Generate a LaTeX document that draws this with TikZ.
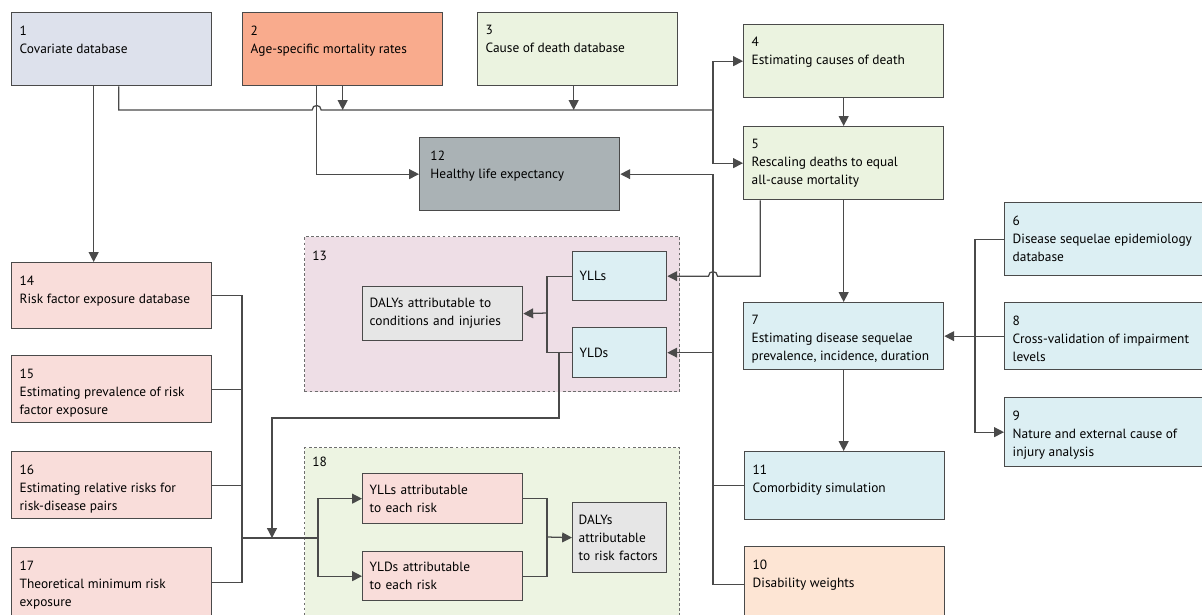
\documentclass[tikz,border=0pt]{standalone}
\usepackage{fontspec}
\setmainfont{PT Sans}
\usepackage{xcolor}
\definecolor{BoxLine}{HTML}{4A4A4A}
\definecolor{CovBlue}{HTML}{DDE1EC}
\definecolor{MortSalmon}{HTML}{F9AB8D}
\definecolor{CodGreen}{HTML}{EBF3E0}
\definecolor{HaleGray}{HTML}{AAB2B5}
\definecolor{SeqCyan}{HTML}{DCEFF3}
\definecolor{RiskPink}{HTML}{F9DDDA}
\definecolor{DwPeach}{HTML}{FDE5D4}
\definecolor{DalyGray}{HTML}{E6E6E6}
\definecolor{PanelPink}{HTML}{EEDEE6}
\definecolor{PanelGreen}{HTML}{EDF4E2}
\usetikzlibrary{arrows.meta, positioning, calc}
\newcommand{\boxfont}{\fontsize{9.5}{12.8}\selectfont}
\tikzset{
  stepbox/.style={rectangle, draw=BoxLine, line width=0.9pt, anchor=north west, inner sep=0pt, minimum width=5cm, minimum height=1.675cm},
  boxtext/.style={anchor=north west, align=left, inner sep=0pt, xshift=0.21cm, yshift=-0.33cm, font=\boxfont},
  smallbox/.style={rectangle, draw=BoxLine, line width=0.9pt, anchor=north west, align=left, inner xsep=0.175cm, inner ysep=0pt, font=\boxfont},
  panel/.style={rectangle, draw=BoxLine!80, line width=0.8pt, dash pattern=on 2pt off 1.6pt, anchor=north west, minimum width=9.375cm},
  panellabel/.style={anchor=north west, inner sep=0pt, xshift=0.2cm, font=\boxfont},
  flowline/.style={draw=BoxLine, line width=0.9pt},
  flow/.style={flowline, -{Triangle[length=7pt, width=7pt]}}
}

\begin{document}
\begin{tikzpicture}[x=0.025cm, y=-0.025cm]
  \useasboundingbox[fill=white] (0,0) rectangle (1202,614);

  \node[stepbox, fill=CovBlue, minimum height=1.825cm, label={[boxtext]north west:{1\\Covariate database}}] (b1) at (11,12) {};
  \node[stepbox, fill=MortSalmon, minimum height=1.825cm, label={[boxtext]north west:{2\\Age-specific mortality rates}}] (b2) at (242,12) {};
  \node[stepbox, fill=CodGreen, minimum height=1.825cm, label={[boxtext]north west:{3\\Cause of death database}}] (b3) at (477,12) {};
  \node[stepbox, fill=CodGreen, minimum height=1.825cm, label={[boxtext]north west:{4\\Estimating causes of death}}] (b4) at (743,24) {};
  \node[stepbox, fill=CodGreen, minimum height=1.825cm, label={[boxtext]north west:{5\\Rescaling deaths to equal\\all-cause mortality}}] (b5) at (743,126) {};
  \node[stepbox, fill=HaleGray, minimum height=1.825cm, label={[boxtext, xshift=0.07cm]north west:{12\\Healthy life expectancy}}] (b12) at (419,137) {};

  \node[stepbox, fill=SeqCyan, minimum height=1.825cm, label={[boxtext]north west:{6\\Disease sequelae epidemiology\\database}}] (b6) at (1004,202) {};
  \node[stepbox, fill=SeqCyan, label={[boxtext]north west:{7\\Estimating disease sequelae\\prevalence, incidence, duration}}] (b7) at (743,302) {};
  \node[stepbox, fill=SeqCyan, label={[boxtext]north west:{8\\Cross-validation of impairment\\levels}}] (b8) at (1004,302) {};
  \node[stepbox, fill=SeqCyan, minimum height=1.725cm, label={[boxtext]north west:{9\\Nature and external cause of\\injury analysis}}] (b9) at (1004,397) {};
  \node[stepbox, fill=SeqCyan, minimum height=1.7cm, label={[boxtext]north west:{11\\Comorbidity simulation}}] (b11) at (744,451) {};
  \node[stepbox, fill=DwPeach, minimum height=1.9cm, label={[boxtext]north west:{10\\Disability weights}}] (b10) at (744,546) {};

  \node[stepbox, fill=RiskPink, minimum height=1.65cm, label={[boxtext]north west:{14\\Risk factor exposure database}}] (b14) at (11,262) {};
  \node[stepbox, fill=RiskPink, label={[boxtext]north west:{15\\Estimating prevalence of risk\\factor exposure}}] (b15) at (11,355) {};
  \node[stepbox, fill=RiskPink, label={[boxtext]north west:{16\\Estimating relative risks for\\risk-disease pairs}}] (b16) at (11,451) {};
  \node[stepbox, fill=RiskPink, minimum height=1.75cm, label={[boxtext]north west:{17\\Theoretical minimum risk\\exposure}}] (b17) at (11,547) {};

  \node[panel, fill=PanelPink, minimum height=3.875cm, label={[panellabel, yshift=-0.37cm]north west:13}] (g13) at (304,236) {};
  \node[panel, fill=PanelGreen, minimum height=4.325cm, label={[panellabel, yshift=-0.25cm]north west:18}] (g18) at (304,447) {};

  \node[smallbox, fill=SeqCyan, text width=2cm, minimum height=1.225cm] (yll) at (572,251) {YLLs};
  \node[smallbox, fill=SeqCyan, text width=2cm, minimum height=1.25cm] (yld) at (572,327) {YLDs};
  \node[smallbox, fill=DalyGray, text width=3.65cm, minimum height=1.35cm] (daly13) at (362,286) {DALYs attributable to\\conditions and injuries};
  \node[smallbox, fill=RiskPink, text width=3.65cm, minimum height=1.25cm] (yllr) at (362,473) {YLLs attributable\\to each risk};
  \node[smallbox, fill=RiskPink, text width=3.65cm, minimum height=1.225cm] (yldr) at (362,551) {YLDs attributable\\to each risk};
  \node[smallbox, fill=DalyGray, text width=2.05cm, inner xsep=0.15cm, minimum height=1.75cm] (dalyr) at (572,502) {DALYs\\attributable\\\mbox{to risk factors}};

  \coordinate (bus) at (713,110);
  \coordinate (hopa) at ($(b2.south |- bus)+(-26,0)$);
  \coordinate (hopb) at (bus |- yll.east);
  \coordinate (riskbus) at (242,538);
  \coordinate (risksplit) at (318,538);
  \coordinate (lossjoin) at (547,313);
  \coordinate (riskjoin) at (547,537);

  \draw[flow] ($(b1.south)+(-18,0)$) -- ($(b14.north)+(-18,0)$);
  \draw[flowline] ($(b1.south)+(7,0)$) |- ($(hopa)+(-4.5,0)$) .. controls ($(hopa)+(-4.5,-6)$) and ($(hopa)+(4.5,-6)$) .. ($(hopa)+(4.5,0)$) -- (bus);
  \draw[flow] (b2.south) -- (b2.south |- bus);
  \draw[flow] ($(b3.south)+(-4,0)$) -- ($(b3.south |- bus)+(-4,0)$);
  \draw[flow] (bus) |- (b4.west);
  \draw[flow] (bus) |- (b5.west);
  \draw[flow] ($(b2.south)+(-26,0)$) |- (b12.west);
  \draw[flow] (b4) -- (b5);
  \draw[flow] (b5) -- (b7);
  \draw[flow] ($(b5.south)+(-83.5,0)$) |- ($(hopb)+(4.5,0)$) .. controls ($(hopb)+(4.5,-6)$) and ($(hopb)+(-4.5,-6)$) .. ($(hopb)+(-4.5,0)$) -- (yll.east);
  \draw[flow] (b10.west) -| (b12.east -| bus) -- (b12.east);
  \draw[flowline] (b11.west) -- (b11.west -| bus);
  \draw[flow] (yld.east -| bus) -- (yld.east);
  \draw[flow] (b7.south) -- (b7.south |- b11.north);
  \draw[flow] (b6.west) -| ($(b9.west)+(-29,0)$) -- (b9.west);
  \draw[flow] (b8.west) -- (b7.east);

  \draw[flowline] (yll.west) -| (lossjoin) |- (yld.west);
  \draw[flow] (lossjoin) -- (daly13.east);
  \draw[flow] ($(yld.west)+(-13,0)$) |- ($(riskbus)+(30,-120)$) -- ($(riskbus)+(30,0)$);
  \draw[flowline] (b14.east) -| (riskbus) |- (b17.east);
  \draw[flowline] (b15.east) -- (b15.east -| riskbus);
  \draw[flowline] (b16.east) -- (b16.east -| riskbus);
  \draw[flowline] (riskbus) -- (risksplit);
  \draw[flow] (risksplit) |- (yllr.west);
  \draw[flow] (risksplit) |- (yldr.west);
  \draw[flowline] (yllr.east) -| (riskjoin) |- (yldr.east);
  \draw[flow] (riskjoin) -- (dalyr.west);
\end{tikzpicture}
\end{document}
